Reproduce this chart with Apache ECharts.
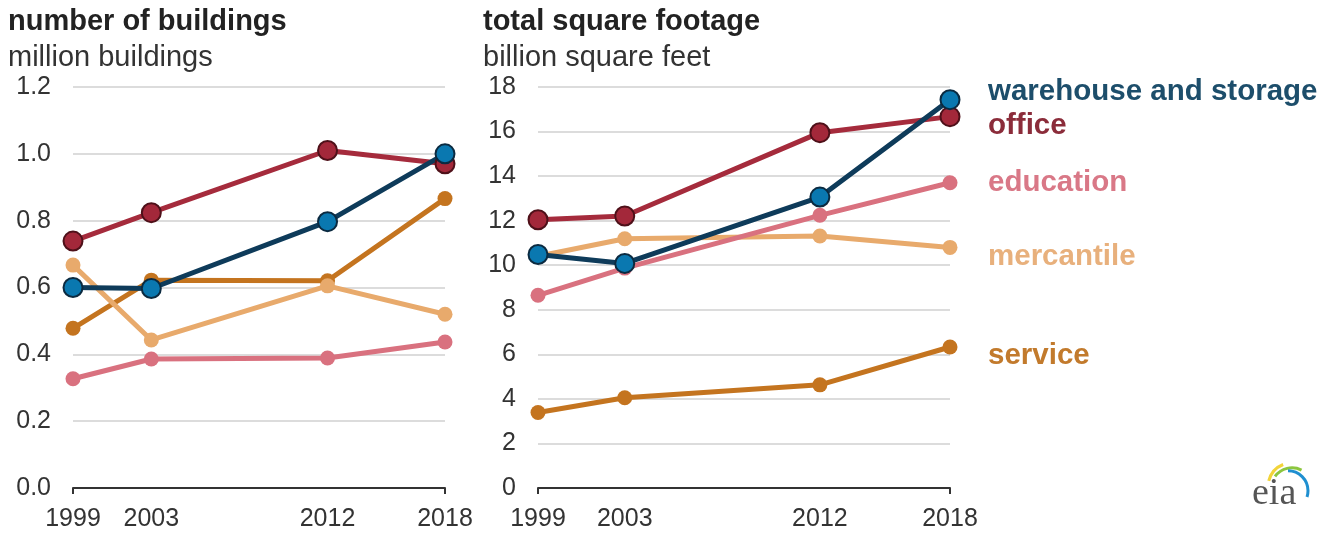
<!DOCTYPE html>
<html><head><meta charset="utf-8">
<script src="https://cdn.jsdelivr.net/npm/echarts@6/dist/echarts.min.js"></script>
<style>html,body{margin:0;padding:0;background:#fff}#c{width:1322px;height:535px}</style>
</head><body><div id="c"></div>
<script>
// ---- data ----
const years = [1999, 2003, 2012, 2018];
const xLabelYears = [1999, 2003, 2012, 2018];
const leftTicks = [0, 0.2, 0.4, 0.6, 0.8, 1.0, 1.2];
const rightTicks = [0, 2, 4, 6, 8, 10, 12, 14, 16, 18];

// million buildings
const warehouseBldg  = [0.600, 0.597, 0.797, 1.000];
const officeBldg     = [0.739, 0.824, 1.010, 0.970];
const educationBldg  = [0.327, 0.386, 0.389, 0.437];
const mercantileBldg = [0.667, 0.443, 0.605, 0.520];
const serviceBldg    = [0.478, 0.622, 0.620, 0.866];

// billion square feet
const warehouseSqft  = [10.48, 10.08, 13.06, 17.43];
const officeSqft     = [12.04, 12.21, 15.95, 16.67];
const educationSqft  = [8.65, 9.87, 12.24, 13.70];
const mercantileSqft = [10.40, 11.19, 11.31, 10.80];
const serviceSqft    = [3.39, 4.05, 4.63, 6.33];

const names = ['service', 'mercantile', 'education', 'office', 'warehouse and storage'];
const bldgSets = [serviceBldg, mercantileBldg, educationBldg, officeBldg, warehouseBldg];
const sqftSets = [serviceSqft, mercantileSqft, educationSqft, officeSqft, warehouseSqft];

// ---- styles ----
const FONT = '"Liberation Sans", Arial, sans-serif';
const styles = {
  'service':               {line: '#c4741f', fill: '#c4741f', border: null, size: 15, label: '#c27a2c', dy: 9},
  'mercantile':            {line: '#e8aa6c', fill: '#e8aa6c', border: null, size: 15, label: '#e8b07c', dy: 9},
  'education':             {line: '#d9717f', fill: '#d9717f', border: null, size: 15, label: '#d97887', dy: 0},
  'office':                {line: '#a52b3c', fill: '#a3283a', border: '#4e1019', size: 19, label: '#8b2c3a', dy: 9},
  'warehouse and storage': {line: '#0e3b5a', fill: '#0a78b0', border: '#0b2a40', size: 19, label: '#1d4e6b', dy: -8}
};

function pairs(vals) { return years.map((y, i) => [y, vals[i]]); }

function makeSeries(name, vals, idx, withLabel) {
  const s = styles[name];
  const o = {
    name: name + (withLabel ? '' : ' '),
    type: 'line',
    xAxisIndex: idx, yAxisIndex: idx,
    data: pairs(vals),
    symbol: 'circle',
    symbolSize: s.size,
    lineStyle: {color: s.line, width: 5},
    itemStyle: {color: s.fill, borderColor: s.border || s.fill, borderWidth: s.border ? 2 : 0},
    emphasis: {disabled: true},
    silent: true
  };
  if (withLabel) {
    o.endLabel = {
      show: true, formatter: name, position: 'right', distance: 38,
      offset: [0, s.dy], color: s.label, fontFamily: FONT, fontSize: 29.5, fontWeight: 'bold'
    };
  }
  return o;
}

const series = [];
names.forEach((n, i) => series.push(makeSeries(n, bldgSets[i], 0, false)));
names.forEach((n, i) => series.push(makeSeries(n, sqftSets[i], 1, true)));

function xAxis(idx) {
  return {
    type: 'value', gridIndex: idx, min: years[0], max: years[years.length - 1],
    axisLine: {show: true, lineStyle: {color: '#333', width: 2}},
    axisTick: {show: true, customValues: [years[0], years[years.length - 1]], length: 6, lineStyle: {color: '#333', width: 2}},
    axisLabel: {customValues: xLabelYears, color: '#333', fontFamily: FONT, fontSize: 25, margin: 19, formatter: v => String(v)},
    splitLine: {show: false}
  };
}
function yAxis(idx, ticks, fmt) {
  return {
    type: 'value', gridIndex: idx, min: ticks[0], max: ticks[ticks.length - 1],
    interval: ticks[1] - ticks[0],
    axisLine: {show: false}, axisTick: {show: false},
    axisLabel: {color: '#333', fontFamily: FONT, fontSize: 25, margin: 22, formatter: fmt},
    splitLine: {show: true, lineStyle: {color: '#dcdcdc', width: 2}}
  };
}

const chart = echarts.init(document.getElementById('c'), null, {renderer: 'canvas'});
chart.setOption({
  animation: false,
  backgroundColor: '#fff',
  title: [
    {text: 'number of buildings', subtext: 'million buildings', left: 3, top: 2, itemGap: 7,
     textStyle: {fontFamily: FONT, fontSize: 29, fontWeight: 'bold', color: '#222'},
     subtextStyle: {fontFamily: FONT, fontSize: 29, color: '#333'}},
    {text: 'total square footage', subtext: 'billion square feet', left: 478, top: 2, itemGap: 7,
     textStyle: {fontFamily: FONT, fontSize: 29, fontWeight: 'bold', color: '#222'},
     subtextStyle: {fontFamily: FONT, fontSize: 29, color: '#333'}}
  ],
  grid: [
    {left: 73, right: 1322 - 445, top: 87, bottom: 535 - 488},
    {left: 538, right: 1322 - 950, top: 87, bottom: 535 - 488}
  ],
  xAxis: [xAxis(0), xAxis(1)],
  yAxis: [yAxis(0, leftTicks, v => v.toFixed(1)), yAxis(1, rightTicks, v => String(v))],
  series: series,
  graphic: [
    {type: 'group', left: 1252, top: 462, children: [
      {type: 'arc', shape: {cx: 40, cy: 30, r: 24, startAngle: -Math.PI * 0.92, endAngle: -Math.PI * 0.62}, style: {stroke: '#f2d43a', lineWidth: 3, fill: null}},
      {type: 'arc', shape: {cx: 40, cy: 32, r: 21, startAngle: -Math.PI * 0.80, endAngle: -Math.PI * 0.35}, style: {stroke: '#8cc63f', lineWidth: 3, fill: null}},
      {type: 'arc', shape: {cx: 36, cy: 34, r: 20, startAngle: -Math.PI * 0.5, endAngle: Math.PI * 0.10}, style: {stroke: '#1f8fd0', lineWidth: 3, fill: null}},
      {type: 'text', left: 0, top: 18, style: {text: 'eia', font: '38px "Liberation Serif", "DejaVu Serif", serif', fill: '#555'}}
    ]}
  ]
});
</script>
</body></html>
